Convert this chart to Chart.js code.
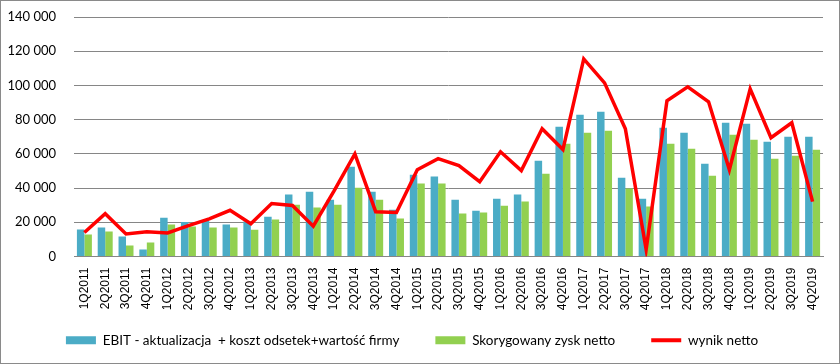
<!DOCTYPE html>
<html>
<head>
<meta charset="utf-8">
<script src="https://cdn.jsdelivr.net/npm/chart.js@4/dist/chart.umd.min.js"></script>
<style>
  html, body { margin: 0; padding: 0; background: #fff; }
  #wrap { width: 838px; height: 362px; border: 1px solid #8a8a8a; position: relative; }
</style>
</head>
<body>
<div id="wrap"><canvas id="chart" width="838" height="362"></canvas></div>
<script>
const quarters = [
    '1Q2011','2Q2011','3Q2011','4Q2011','1Q2012','2Q2012','3Q2012','4Q2012',
    '1Q2013','2Q2013','3Q2013','4Q2013','1Q2014','2Q2014','3Q2014','4Q2014',
    '1Q2015','2Q2015','3Q2015','4Q2015','1Q2016','2Q2016','3Q2016','4Q2016',
    '1Q2017','2Q2017','3Q2017','4Q2017','1Q2018','2Q2018','3Q2018','4Q2018',
    '1Q2019','2Q2019','3Q2019','4Q2019'
];
const ebitValues = [
    15800, 17000, 11700, 4100, 22700, 20200, 21000, 18700,
    20400, 23300, 36200, 37900, 33200, 52500, 37900, 27400,
    47800, 46700, 33200, 26800, 33800, 36200, 56000, 75800,
    82800, 84600, 46100, 33800, 75200, 72300, 54200, 78200,
    77600, 67100, 70000, 70000
];
const adjustedNet = [
    12800, 14600, 6400, 8200, 18700, 17500, 17000, 17000,
    15700, 21600, 30300, 28600, 30300, 40200, 33200, 22200,
    42600, 42600, 25100, 25700, 29700, 32100, 48400, 65900,
    72300, 73500, 39700, 29200, 65900, 63000, 47200, 71200,
    68200, 57200, 58900, 62400
];
const netResult = [
    14000, 25000, 13200, 14400, 13800, 18000, 22000, 27000,
    19200, 31000, 29800, 17700, 38300, 60000, 26200, 25700,
    50700, 57200, 53100, 43700, 61200, 50200, 74700, 62500,
    115500, 101500, 74700, 4100, 91000, 99200, 90400, 50700,
    98000, 69400, 78200, 32100
];
const yTicks = [0, 20000, 40000, 60000, 80000, 100000, 120000, 140000];

function fmtThousands(v) {
    return String(v).replace(/\B(?=(\d{3})+(?!\d))/g, ' ');
}

// legend keeps a big label padding (for the wide gaps between items), which also
// eats vertical room; let the x labels run down into that empty space instead of clipping
const xLabelRoom = {
    id: 'xLabelRoom',
    afterLayout(chart) {
        const x = chart.scales.x;
        if (x) x.bottom = x.top + 67;
    }
};

const ctx = document.getElementById('chart').getContext('2d');
new Chart(ctx, {
    type: 'bar',
    data: {
        labels: quarters,
        datasets: [
            {
                label: 'EBIT - aktualizacja  + koszt odsetek+wartość firmy',
                data: ebitValues,
                backgroundColor: '#4bacc6',
                borderWidth: 0,
                categoryPercentage: 0.72,
                barPercentage: 1.0,
                order: 1
            },
            {
                label: 'Skorygowany zysk netto',
                data: adjustedNet,
                backgroundColor: '#92d050',
                borderWidth: 0,
                categoryPercentage: 0.72,
                barPercentage: 1.0,
                order: 1
            },
            {
                type: 'line',
                label: 'wynik netto',
                data: netResult,
                borderColor: '#ff0000',
                backgroundColor: '#ff0000',
                borderWidth: 3.5,
                tension: 0,
                pointRadius: 0,
                fill: false,
                order: 0
            }
        ]
    },
    plugins: [xLabelRoom],
    options: {
        responsive: false,
        animation: false,
        layout: { padding: { top: 16, right: 16, bottom: 6, left: 0 } },
        plugins: {
            tooltip: { enabled: false },
            legend: {
                position: 'bottom',
                labels: {
                    color: '#000',
                    font: { family: 'Lato', size: 13.5 },
                    usePointStyle: true,
                    pointStyleWidth: 30,
                    boxHeight: 8,
                    padding: 36,
                    sort: (a, b) => a.datasetIndex - b.datasetIndex,
                    generateLabels(chart) {
                        return chart.data.datasets.map((ds, i) => ({
                            text: ds.label,
                            fillStyle: ds.backgroundColor,
                            strokeStyle: ds.type === 'line' ? ds.borderColor : ds.backgroundColor,
                            lineWidth: ds.type === 'line' ? 4 : 0,
                            pointStyle: ds.type === 'line' ? 'line' : 'rect',
                            fontColor: '#000',
                            hidden: false,
                            datasetIndex: i
                        }));
                    }
                }
            }
        },
        scales: {
            x: {
                grid: { display: false, drawTicks: false },
                border: { color: '#868686', width: 1 },
                ticks: {
                    color: '#000',
                    font: { family: 'Liberation Sans', size: 12 },
                    minRotation: 90,
                    maxRotation: 90,
                    autoSkip: false,
                    padding: 11
                },
                afterFit(scale) { scale.height = 41; }
            },
            y: {
                min: 0,
                max: 140000,
                afterBuildTicks(scale) { scale.ticks = yTicks.map(v => ({ value: v })); },
                // invisible tick marks give the label gap; ticks.padding would also push the plot top down
                grid: { color: '#868686', lineWidth: 1, drawTicks: true, tickLength: 18, tickColor: 'rgba(0,0,0,0)' },
                border: { display: false },
                ticks: {
                    color: '#000',
                    font: { family: 'Lato', size: 13 },
                    padding: 0,
                    callback: v => fmtThousands(v)
                },
                afterFit(scale) { scale.width = 73; }
            }
        }
    }
});
</script>
</body>
</html>
